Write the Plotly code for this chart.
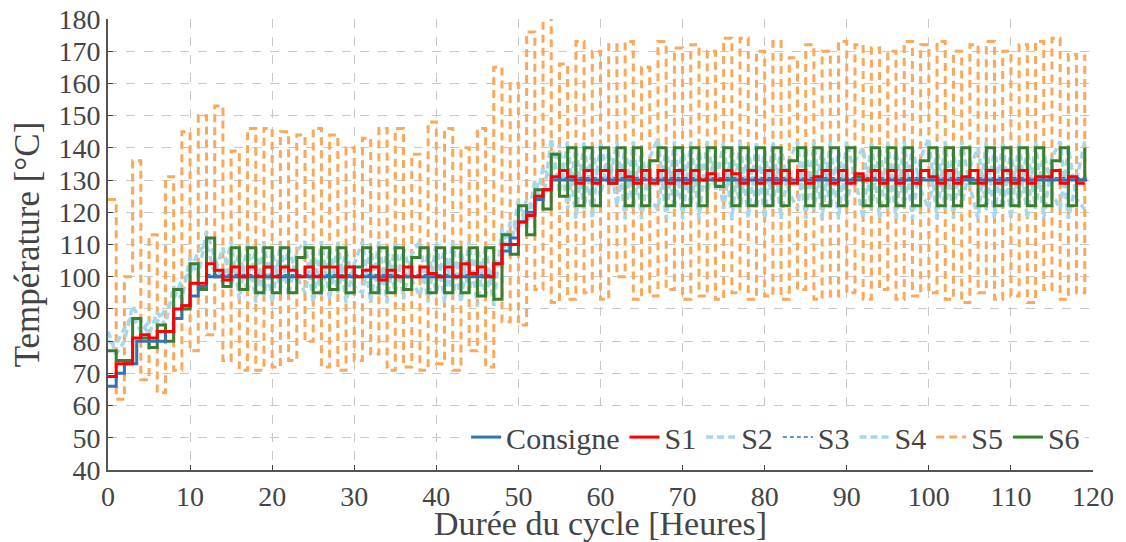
import plotly.graph_objects as go

# Hourly time grid for the measured probes
hours = list(range(120))

# Setpoint (step changes)
consigne_t = [0, 1, 2, 3.5, 7, 8, 9, 10, 11, 12, 47, 48, 49, 50, 51, 52, 53, 54, 119.3]
consigne_v = [66, 70, 73, 80, 83, 87, 91, 94, 97, 100, 104, 108, 112, 117, 120, 124, 127, 130, 130]

# Probe S3 (tracks the setpoint closely)
s3_t = [0, 1, 2, 3.5, 7, 8, 9, 10, 11, 12, 47, 48, 49, 50, 51, 52, 53, 54, 119.3]
s3_v = [66, 70, 73, 80, 83, 87, 91, 94, 97, 100.6, 104, 108, 112, 117, 120, 124, 127, 130.7, 130.7]

s1 = [69, 73, 73, 81, 82, 81, 83, 83, 90, 91, 98, 98, 104, 102, 99, 103, 100, 103, 100, 103,
      100, 103, 102, 100, 103, 100, 103, 103, 100, 103, 100, 102, 103, 99, 102, 100, 103, 100, 103, 101,
      100, 103, 100, 104, 101, 103, 100, 104, 110, 110, 117, 119, 125, 127, 131, 133, 131, 129, 133, 129,
      133, 129, 133, 131, 129, 133, 129, 133, 129, 133, 129, 133, 130, 132, 130, 133, 132, 129, 133, 129,
      133, 129, 133, 129, 133, 129, 131, 133, 129, 133, 129, 132, 130, 133, 129, 133, 129, 133, 129, 133,
      131, 129, 133, 129, 131, 133, 129, 133, 129, 133, 129, 133, 129, 131, 131, 133, 129, 131, 129, 129]

s2 = [83, 76, 80, 91, 86, 82, 89, 85, 97, 93, 106, 100, 114, 106, 98, 111, 93, 111, 92, 111,
      92, 110, 94, 108, 111, 92, 111, 93, 111, 92, 104, 111, 92, 111, 92, 111, 93, 107, 111, 92,
      111, 92, 111, 92, 111, 91, 110, 91, 115, 108, 124, 115, 130, 123, 143, 126, 142, 118, 142, 118,
      142, 128, 142, 118, 142, 118, 137, 143, 118, 142, 118, 142, 118, 142, 127, 142, 118, 142, 118, 142,
      118, 142, 118, 136, 142, 118, 142, 118, 142, 118, 142, 131, 118, 142, 118, 142, 118, 142, 118, 137,
      143, 118, 142, 118, 142, 128, 118, 142, 118, 142, 118, 142, 118, 142, 118, 137, 142, 118, 130, 142]

s4 = [80, 79, 84, 88, 83, 86, 86, 90, 93, 99, 101, 108, 110, 101, 109, 97, 108, 95, 109, 94,
      108, 96, 109, 100, 95, 108, 94, 109, 95, 108, 97, 95, 109, 94, 108, 95, 109, 99, 94, 108,
      95, 109, 94, 108, 95, 109, 94, 104, 106, 117, 114, 124, 121, 134, 130, 141, 121, 140, 121, 140,
      125, 139, 122, 140, 121, 139, 124, 121, 140, 121, 140, 122, 139, 126, 138, 121, 140, 121, 140, 121,
      139, 122, 140, 126, 121, 140, 121, 140, 121, 139, 122, 136, 140, 121, 140, 121, 139, 122, 140, 127,
      121, 140, 121, 139, 122, 134, 140, 121, 140, 121, 139, 122, 140, 121, 139, 126, 121, 140, 124, 121]

s5 = [124, 62, 100, 136, 68, 113, 64, 131, 71, 145, 77, 150, 82, 153, 74, 139, 71, 146, 71, 146,
      72, 145, 74, 144, 80, 146, 72, 144, 71, 140, 74, 143, 76, 146, 71, 146, 72, 138, 71, 148,
      73, 146, 71, 140, 77, 146, 72, 165, 86, 160, 85, 176, 96, 184, 92, 166, 93, 173, 95, 170,
      93, 172, 100, 173, 93, 165, 94, 173, 96, 171, 93, 172, 94, 170, 93, 174, 95, 174, 93, 170,
      94, 173, 93, 168, 96, 172, 93, 170, 94, 173, 95, 172, 93, 171, 96, 170, 93, 173, 94, 172,
      95, 173, 93, 170, 92, 172, 95, 173, 93, 170, 94, 172, 92, 173, 96, 174, 93, 169, 95, 169]

s6 = [77, 74, 74, 87, 81, 78, 85, 80, 96, 90, 104, 96, 112, 100, 97, 109, 96, 109, 95, 109,
      95, 109, 95, 106, 109, 95, 109, 96, 109, 95, 103, 109, 95, 109, 95, 109, 96, 106, 109, 95,
      109, 95, 109, 95, 109, 94, 109, 93, 113, 107, 122, 113, 127, 121, 138, 125, 140, 122, 140, 122,
      140, 129, 140, 122, 140, 122, 136, 140, 122, 140, 122, 140, 122, 140, 128, 140, 122, 140, 122, 140,
      122, 140, 122, 136, 140, 122, 140, 122, 140, 122, 140, 131, 122, 140, 122, 140, 122, 140, 122, 136,
      140, 122, 140, 122, 140, 129, 122, 140, 122, 140, 122, 140, 122, 140, 122, 136, 140, 122, 130, 140]

FONT = "Times New Roman"
BLUE = "#2F75B5"
RED = "#FF0000"
LIGHT_BLUE = "#A8D6EA"
ORANGE = "#FBA85A"
GREEN = "#3A7F2F"

fig = go.Figure()

# Drawing order: orange underneath, red on top; legend order set by legendrank
fig.add_trace(go.Scatter(x=hours, y=s5, name="S5", mode="lines", legendrank=6,
                         line=dict(color=ORANGE, width=3, dash="8px,5px", shape="hv")))
fig.add_trace(go.Scatter(x=hours, y=s2, name="S2", mode="lines", legendrank=3,
                         line=dict(color=LIGHT_BLUE, width=3.5, dash="7px,4px")))
fig.add_trace(go.Scatter(x=hours, y=s4, name="S4", mode="lines", legendrank=5,
                         line=dict(color=LIGHT_BLUE, width=3.5, dash="7px,4px")))
fig.add_trace(go.Scatter(x=hours, y=s6, name="S6", mode="lines", legendrank=7,
                         line=dict(color=GREEN, width=3, shape="hv")))
fig.add_trace(go.Scatter(x=consigne_t, y=consigne_v, name="Consigne", mode="lines", legendrank=1,
                         line=dict(color=BLUE, width=3, shape="hv")))
fig.add_trace(go.Scatter(x=s3_t, y=s3_v, name="S3", mode="lines", legendrank=4,
                         line=dict(color=BLUE, width=1.5, dash="4px,3px", shape="hv")))
fig.add_trace(go.Scatter(x=hours, y=s1, name="S1", mode="lines", legendrank=2,
                         line=dict(color=RED, width=3, shape="hv")))

fig.update_xaxes(
    range=[0, 120], dtick=10,
    gridcolor="#C8C8C8", griddash="dash",
    showline=True, linecolor="#555555", linewidth=2,
    ticks="inside", zeroline=False,
    tickfont=dict(family=FONT, size=28),
    title=dict(text="Durée du cycle [Heures]", font=dict(family=FONT, size=34), standoff=10),
)
fig.update_yaxes(
    range=[40, 180], dtick=10,
    gridcolor="#C8C8C8", griddash="dash",
    showline=True, linecolor="#555555", linewidth=2,
    ticks="inside", zeroline=False,
    tickfont=dict(family=FONT, size=28),
    title=dict(text="Température [°C]", font=dict(family=FONT, size=35), standoff=8),
)

fig.update_layout(
    template="none",
    width=1126, height=542,
    margin=dict(l=108, r=33, t=19, b=72),
    legend=dict(
        orientation="h", x=0.992, xanchor="right", y=0.073, yanchor="middle",
        font=dict(family=FONT, size=30),
    ),
)

fig.write_html("out.html")
